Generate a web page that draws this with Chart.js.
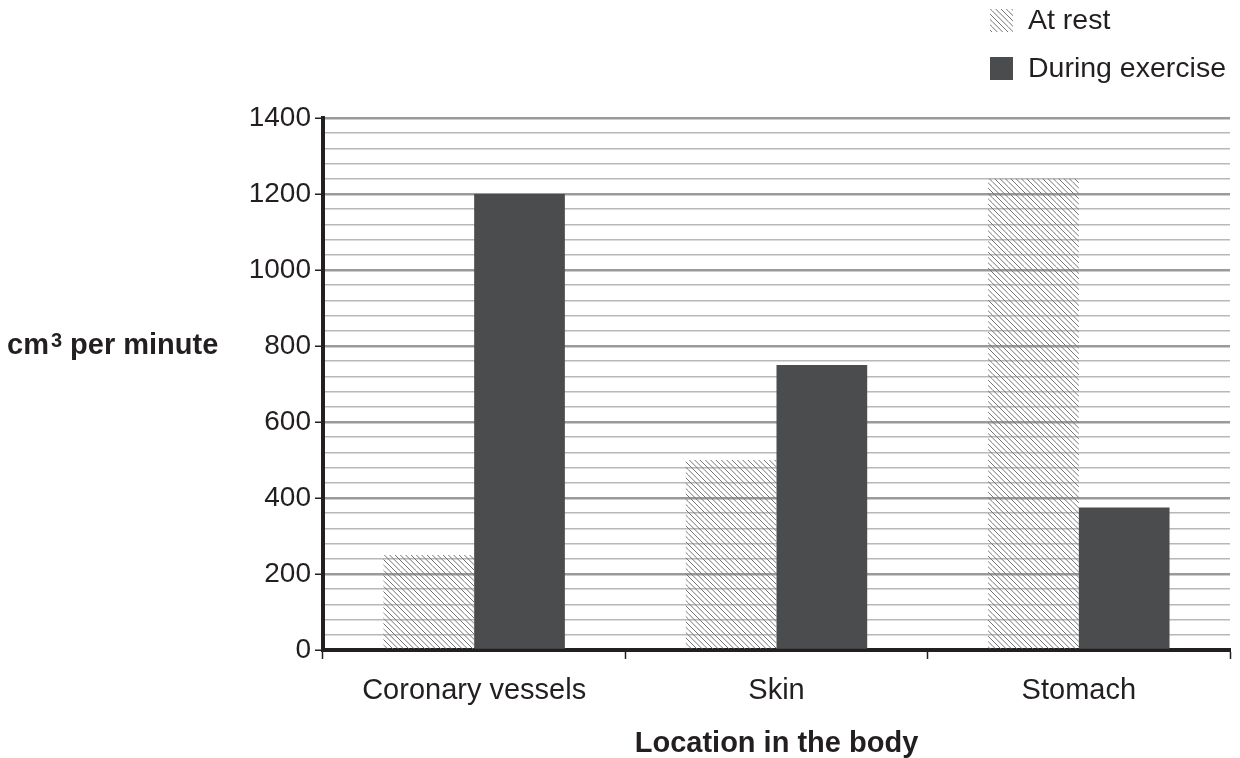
<!DOCTYPE html>
<html>
<head>
<meta charset="utf-8">
<script src="https://cdn.jsdelivr.net/npm/chart.js@4"></script>
<style>
  html, body { margin: 0; padding: 0; background: #fff; }
  #wrap { width: 1240px; height: 758px; position: relative; }
</style>
</head>
<body>
<div id="wrap"><canvas id="blood-chart"></canvas></div>
<script>
/* Blood flow at rest vs during exercise */

const locations = ['Coronary vessels', 'Skin', 'Stomach'];
const atRest = [250, 500, 1240];
const duringExercise = [1200, 750, 375];
const seriesNames = ['At rest', 'During exercise'];
const yTitle = ['cm', '3', ' per minute'];
const xTitle = 'Location in the body';

const INK = '#231f20';
const DARK = '#4b4c4e';
const FONT = '"Liberation Sans", Arial, sans-serif';

// diagonal hatch for the "at rest" bars
function makeHatch() {
  const size = 16;
  const c = document.createElement('canvas');
  c.width = size; c.height = size;
  const g = c.getContext('2d');
  g.strokeStyle = '#747474';
  g.lineWidth = 1;
  for (let k = -size * 2; k <= size * 2; k += size / 3) {
    g.beginPath();
    g.moveTo(0, k);
    g.lineTo(size, k + size);
    g.stroke();
  }
  return g.createPattern(c, 'repeat');
}
const hatch = makeHatch();

// horizontal y title, axis title below and the stacked legend
const extrasPlugin = {
  id: 'extras',
  afterDraw: function(chart) {
    const ctx = chart.ctx;
    const area = chart.chartArea;
    ctx.save();
    ctx.fillStyle = INK;
    ctx.textBaseline = 'alphabetic';
    ctx.textAlign = 'left';

    // y title (horizontal, with superscript)
    const base = 354;
    let x = 7;
    ctx.font = 'bold 29px ' + FONT;
    ctx.fillText(yTitle[0], x, base);
    x += ctx.measureText(yTitle[0]).width + 2;
    ctx.font = 'bold 20px ' + FONT;
    ctx.fillText(yTitle[1], x, base - 7);
    x += ctx.measureText(yTitle[1]).width;
    ctx.font = 'bold 29px ' + FONT;
    ctx.fillText(yTitle[2], x, base);

    // x title
    ctx.textAlign = 'center';
    ctx.fillText(xTitle, (area.left + area.right) / 2, 752);

    // legend
    ctx.textAlign = 'left';
    ctx.textBaseline = 'middle';
    ctx.font = '28.5px ' + FONT;
    const fills = [hatch, DARK];
    const rows = [20.5, 68.5];
    for (let i = 0; i < seriesNames.length; i++) {
      ctx.fillStyle = fills[i];
      ctx.fillRect(990, rows[i] - 11.5, 23, 23);
      ctx.fillStyle = INK;
      ctx.fillText(seriesNames[i], 1028, rows[i] + 1);
    }
    ctx.restore();
  }
};

new Chart(document.getElementById('blood-chart'), {
  type: 'bar',
  data: {
    labels: locations,
    datasets: [
      { label: seriesNames[0], data: atRest, backgroundColor: hatch, borderWidth: 0 },
      { label: seriesNames[1], data: duringExercise, backgroundColor: DARK, borderWidth: 0 }
    ]
  },
  options: {
    responsive: true,
    maintainAspectRatio: false,
    animation: false,
    devicePixelRatio: 1,
    layout: { padding: { top: 118, right: 10, left: 0, bottom: 0 } },
    datasets: { bar: { categoryPercentage: 0.6, barPercentage: 1.0 } },
    plugins: {
      legend: { display: false },
      tooltip: { enabled: false }
    },
    scales: {
      x: {
        afterFit: s => { s.height = 108; },
        grid: {
          offset: true,
          drawOnChartArea: false,
          drawTicks: true,
          tickLength: 9,
          tickColor: INK,
          tickWidth: 1.5
        },
        border: { color: INK, width: 4 },
        ticks: { color: INK, padding: 15, font: { family: FONT, size: 29 } }
      },
      y: {
        min: 0,
        max: 1400,
        afterFit: s => { s.width = 323; },
        ticks: {
          stepSize: 40,
          autoSkip: false,
          padding: 4,
          color: INK,
          font: { family: FONT, size: 28 },
          callback: v => (v % 200 === 0 ? v : '')
        },
        grid: {
          color: c => (c.tick && c.tick.value % 200 === 0 ? '#9a9a9a' : '#b8b8b8'),
          lineWidth: c => (c.tick && c.tick.value % 200 === 0 ? 2.5 : 1.5),
          tickColor: c => (c.tick && c.tick.value % 200 === 0 ? INK : 'rgba(0,0,0,0)'),
          tickLength: 8,
          tickWidth: 1.5
        },
        border: { color: INK, width: 4 }
      }
    }
  },
  plugins: [extrasPlugin]
});
</script>
</body>
</html>
